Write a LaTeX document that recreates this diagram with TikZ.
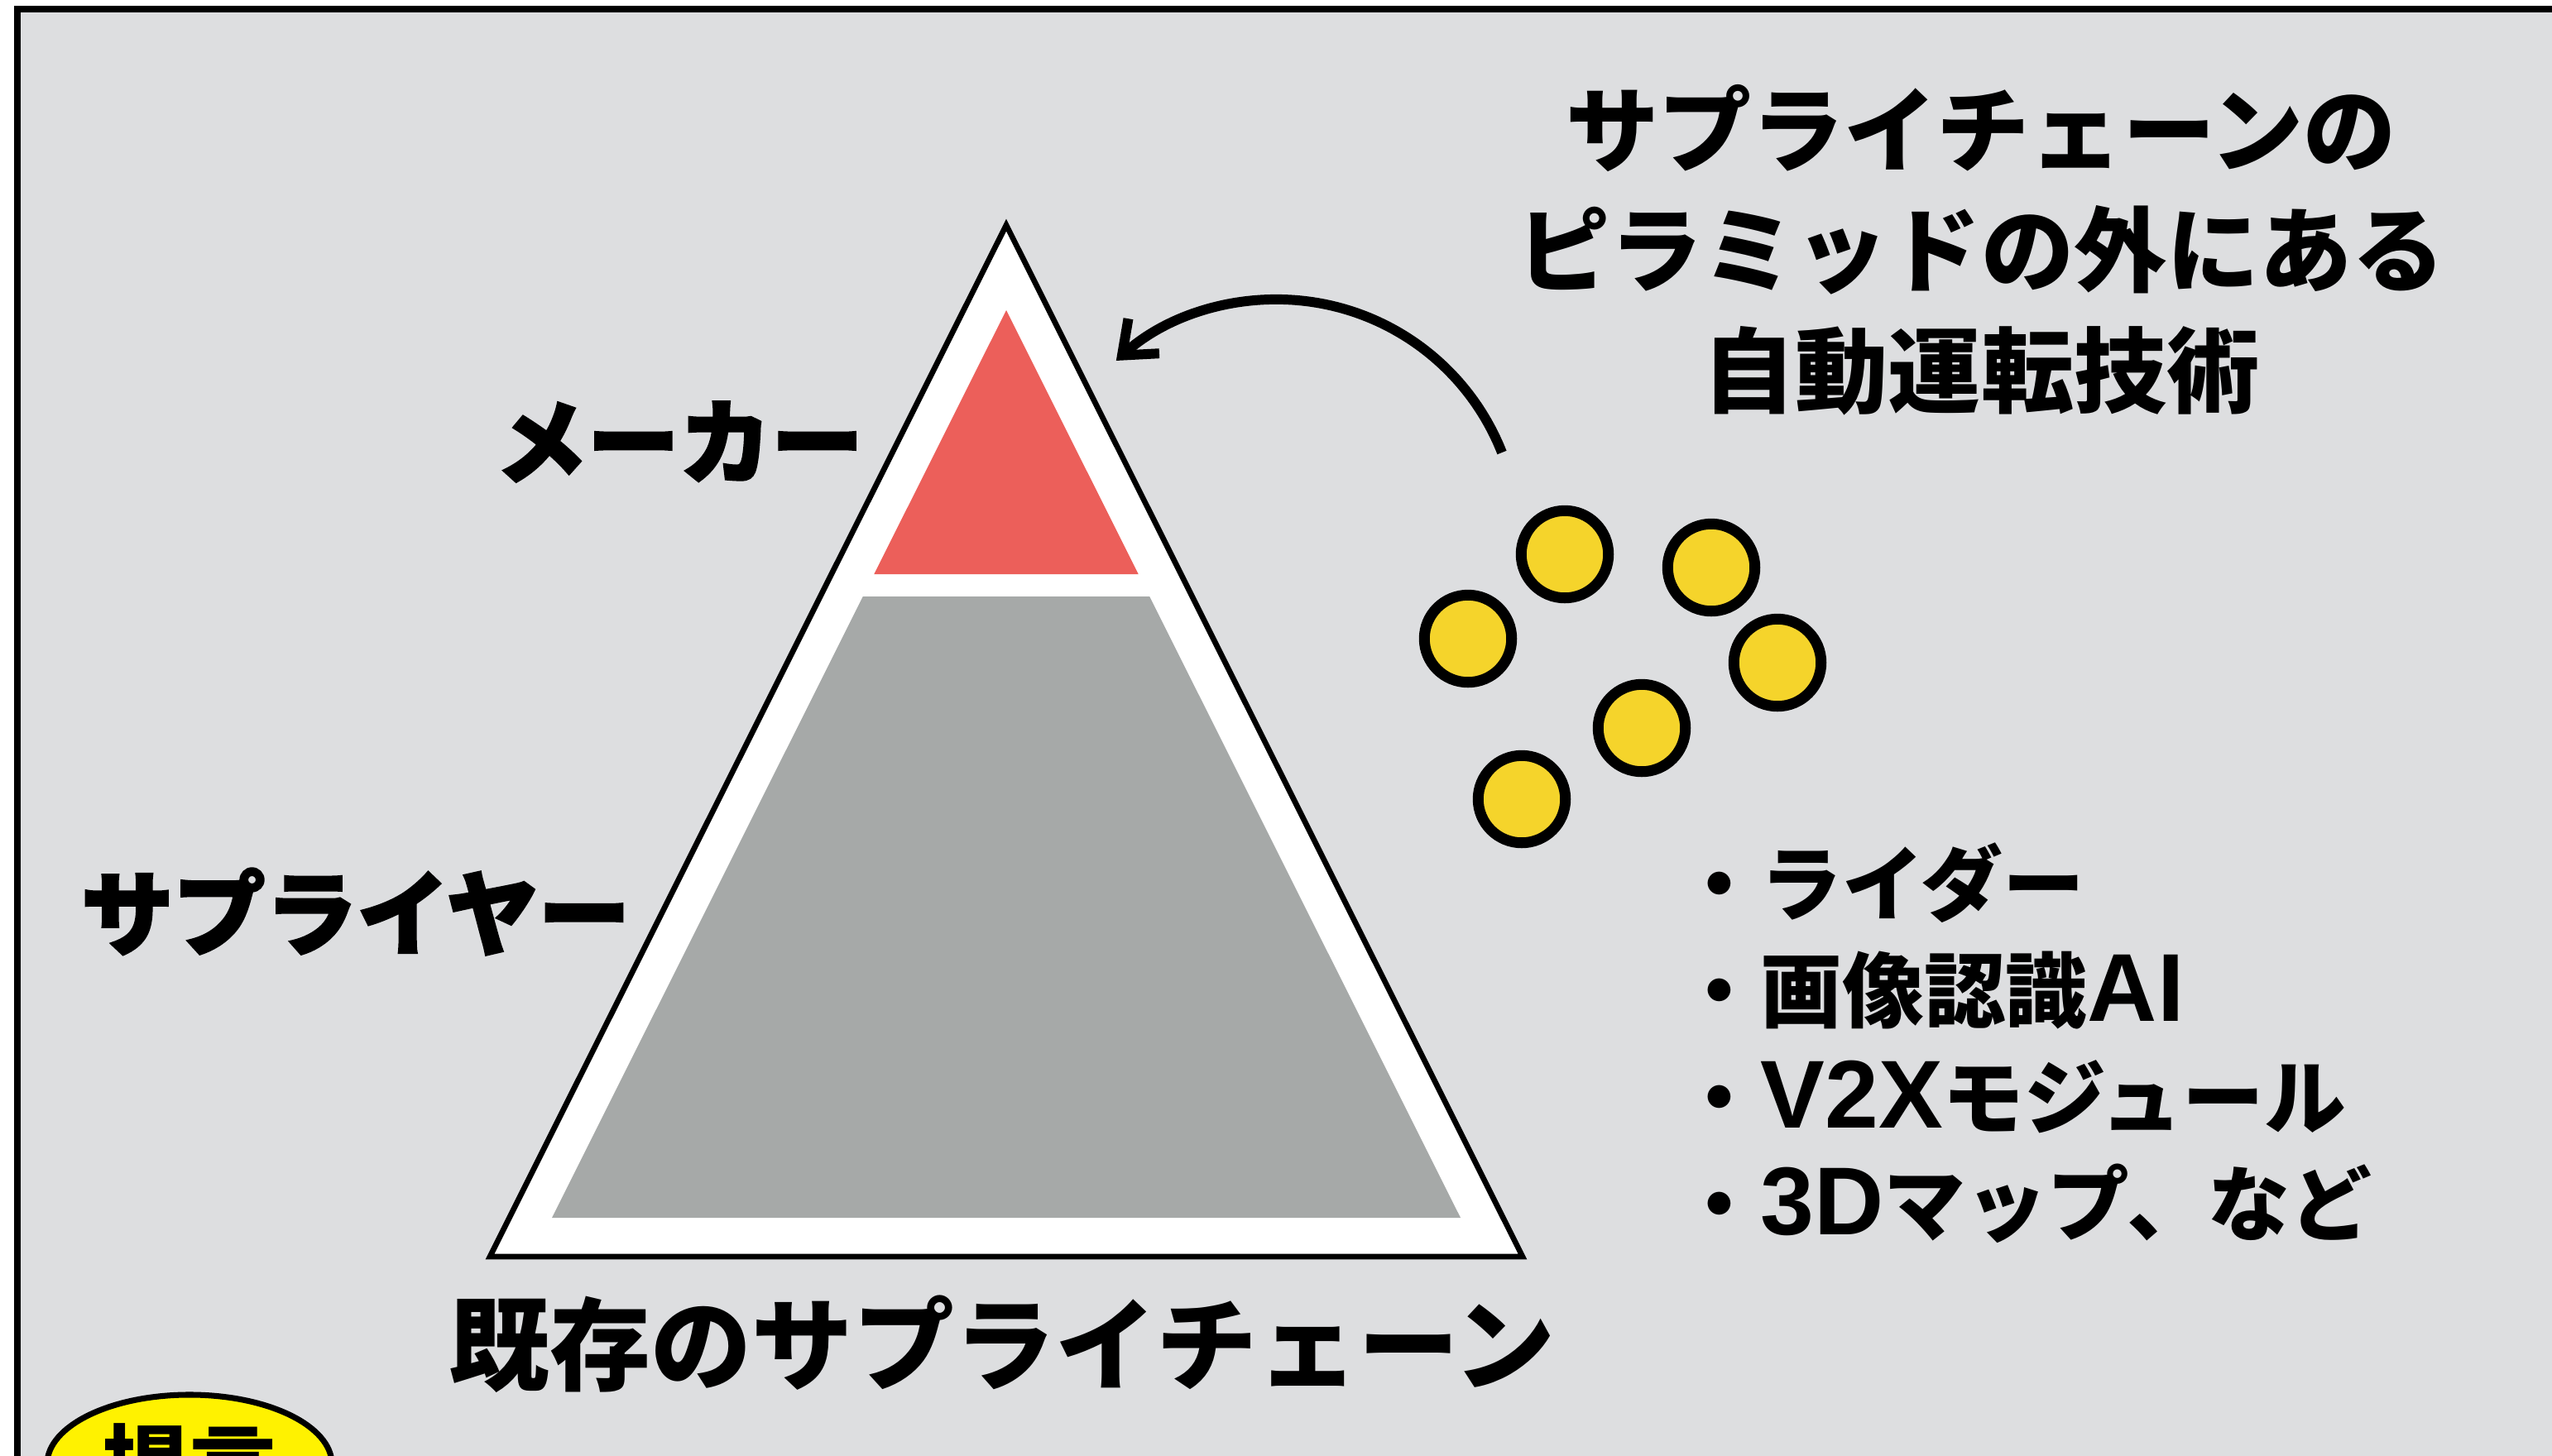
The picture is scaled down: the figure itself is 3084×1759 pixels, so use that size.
\documentclass[tikz,border=0pt]{standalone}
\usepackage{fontspec}
\setmainfont{Noto Sans CJK JP}
\newfontfamily\heavy{Noto Sans CJK JP}[FakeBold=2.5]
\newfontfamily\lat{Liberation Sans}[Scale=1.18]
\usetikzlibrary{arrows.meta,shapes.geometric}
\definecolor{bg}{HTML}{DDDEE0}
\definecolor{topred}{HTML}{EC5F5A}
\definecolor{basegray}{HTML}{A6A9A8}
\definecolor{coinyellow}{HTML}{F5D42B}
\tikzset{
  coin/.style={circle, draw=black, line width=3.7pt, fill=coinyellow, minimum size=1.054cm, inner sep=0pt},
  heavylabel/.style={inner sep=0pt, font=\heavy\bfseries\fontsize{31.6}{36}\selectfont},
}
\begin{document}
\begin{tikzpicture}[x=0.01cm,y=-0.01cm]
\useasboundingbox (0,0) rectangle (3084,1759);
\clip (0,0) rectangle (3084,1759);
\fill[white] (0,0) rectangle (3084,1759);
\draw[line width=2.3pt, fill=bg] (21,11) rectangle (3300,2000);

% pyramid
\coordinate (apex) at (1216,272);
\coordinate (bl) at (592,1519);
\coordinate (br) at (1840,1519);
\draw[line width=1.9pt, fill=white] (apex) -- (bl) -- (br) -- cycle;
\fill[topred] (1216,375) -- (1056.3,694) -- (1375.7,694) -- cycle;
\fill[basegray] (1042.8,721) -- (1389.2,721) -- (1765,1472) -- (667,1472) -- cycle;

% labels
\node[heavylabel] (maker) at (821,534) {メーカー};
\node[heavylabel] (supplier) at (430,1102) {サプライヤー};
\node[inner sep=0pt, font=\bfseries\fontsize{34.7}{40}\selectfont] (chain) at (1211,1625) {既存のサプライチェーン};

% title
\node[inner sep=0pt, align=center, font=\bfseries\fontsize{31.9}{41.3}\selectfont] (title) at (2394,302)
  {サプライチェーンの\\ピラミッドの外にある\\自動運転技術};

% coins
\node[coin] (c1) at (1891,670) {};
\node[coin] (c2) at (2068,686) {};
\node[coin] (c3) at (1774,772) {};
\node[coin] (c4) at (2148,801) {};
\node[coin] (c5) at (1984,880) {};
\node[coin] (c6) at (1839,966) {};

% arrow
\coordinate (arrS) at (1815,547);
\draw[line width=3.4pt, line join=round, -{Straight Barb[length=10pt,width=16pt]}]
  (arrS) arc[start angle=21.5, end angle=131.7, radius=2.92cm];

% list
\node[inner sep=0pt, anchor=west, align=left, font=\bfseries\fontsize{28.1}{36.7}\selectfont] (list) at (2028,1261)
  {・ライダー\\・画像認識{\lat AI}\\・{\lat V2X}モジュール\\・{\lat 3D}マップ、など};

% proposal bubble
\node[ellipse, draw=black, line width=2pt, fill=yellow, minimum width=3.44cm, minimum height=1.68cm,
      inner sep=0pt, font=\bfseries\fontsize{29.6}{34}\selectfont] (teigen) at (229,1770) {提言};
\end{tikzpicture}
\end{document}
